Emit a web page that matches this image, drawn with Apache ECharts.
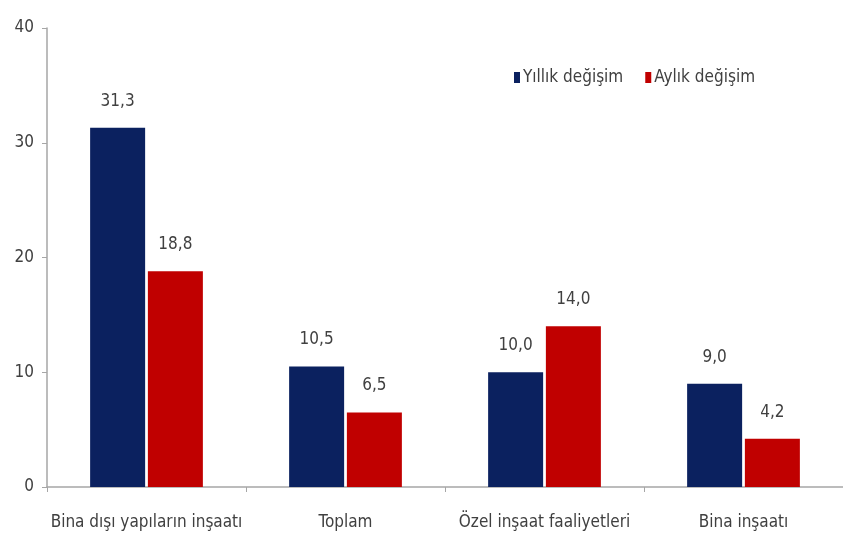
<!DOCTYPE html>
<html><head><meta charset="utf-8">
<script src="https://cdn.jsdelivr.net/npm/echarts@6/dist/echarts.min.js"></script>
<style>html,body{margin:0;padding:0;background:#fff}#c{width:843px;height:543px}</style>
</head><body><div id="c"></div>
<script>
const categories = ["Bina dışı yapıların inşaatı", "Toplam", "Özel inşaat faaliyetleri", "Bina inşaatı"];
const yillik = [31.3, 10.5, 10.0, 9.0];
const aylik = [18.8, 6.5, 14.0, 4.2];
const seriesNames = ["Yıllık değişim", "Aylık değişim"];
const yTicks = [0, 10, 20, 30, 40];

const FONT = '"Liberation Sans Narrow", "DejaVu Sans Condensed", "Liberation Sans", sans-serif';
const chart = echarts.init(document.getElementById('c'), null, {renderer: 'canvas'});
const lbl = {show: true, position: 'top', distance: 18, color: '#404040', fontSize: 17, fontFamily: FONT,
  formatter: p => p.value.toFixed(1).replace('.', ',')};
chart.setOption({
  animation: false,
  grid: {left: 47, top: 28, width: 800, height: 459},
  legend: {
    data: seriesNames, top: 64, left: 509, itemWidth: 6, itemHeight: 11, itemGap: 22,
    icon: 'rect', textStyle: {fontSize: 17, color: '#404040', fontFamily: FONT, padding: [0, 0, 0, -2]}
  },
  xAxis: {
    type: 'category', data: categories,
    axisLine: {lineStyle: {color: '#a6a6a6', width: 1.5}},
    axisTick: {show: true, length: 5, lineStyle: {color: '#a6a6a6'}},
    axisLabel: {fontSize: 17, color: '#404040', margin: 27, fontFamily: FONT, interval: 0}
  },
  yAxis: {
    type: 'value', min: yTicks[0], max: yTicks[yTicks.length - 1], interval: 10,
    splitLine: {show: false},
    axisLine: {show: true, lineStyle: {color: '#a6a6a6', width: 1.5}},
    axisTick: {show: true, length: 5, lineStyle: {color: '#a6a6a6'}},
    axisLabel: {fontSize: 17, color: '#404040', margin: 13, fontFamily: FONT}
  },
  series: [
    {name: seriesNames[0], type: 'bar', data: yillik, barWidth: 55, barGap: '5%',
     itemStyle: {color: '#0b215f'}, label: lbl},
    {name: seriesNames[1], type: 'bar', data: aylik, barWidth: 55,
     itemStyle: {color: '#c00000'}, label: lbl}
  ]
});
</script></body></html>
